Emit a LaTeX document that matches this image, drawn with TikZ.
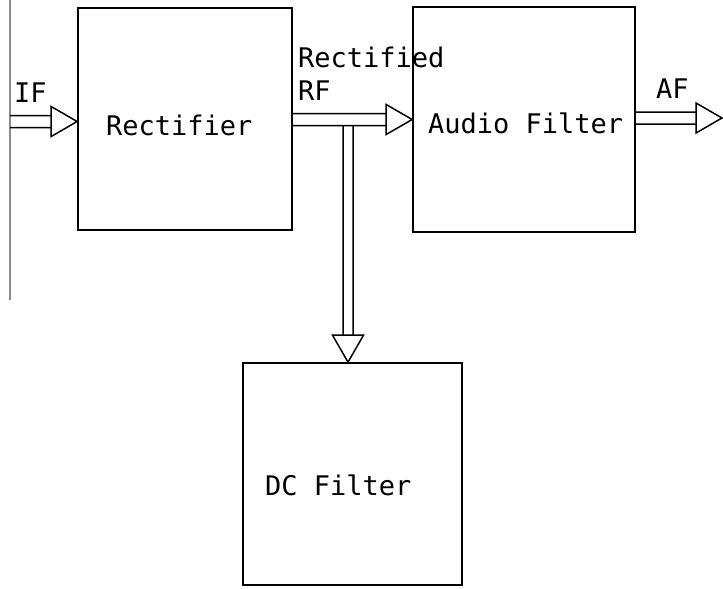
\documentclass[tikz,border=0pt]{standalone}
\usepackage{fontspec}
\setmainfont{DejaVu Sans Mono}
\usetikzlibrary{calc}

\tikzset{
  block/.style={draw=black, line width=1.7pt, minimum width=#1, minimum height=222pt, inner sep=0pt},
  block/.default=214pt,
  conn/.style={draw=black, line width=1.5pt, line join=miter},
  lbl/.style={anchor=base west, inner sep=0pt, font=\fontsize{27}{31}\selectfont},
  edge/.style={draw=black!45, line width=1.2pt}
}

% hollow double-line arrow pointing right: from #1 to the tip at #2
\newcommand{\dbright}[2]{%
  \draw[conn] let \p1=(#1), \p2=(#2) in
    (\x1,\y2+6pt) -- (\x2-26pt,\y2+6pt)
    (\x1,\y2-6pt) -- (\x2-26pt,\y2-6pt)
    (\x2-26pt,\y2+15pt) -- (\x2,\y2) -- (\x2-26pt,\y2-15pt) -- cycle;}
% hollow double-line arrow pointing down: from #1 to the tip at #2
\newcommand{\dbdown}[2]{%
  \draw[conn] let \p1=(#1), \p2=(#2) in
    (\x2-5pt,\y1) -- (\x2-5pt,\y2+27pt)
    (\x2+5pt,\y1) -- (\x2+5pt,\y2+27pt)
    (\x2-15.5pt,\y2+27pt) -- (\x2,\y2) -- (\x2+15.5pt,\y2+27pt) -- cycle;}

\begin{document}
\begin{tikzpicture}[x=1pt, y=-1pt]
  \useasboundingbox (0,0) rectangle (723,589);

  % blocks
  \node[block=214pt] (rect) at (185,119) {};
  \node[block=222pt, minimum height=225pt] (audio) at (524,119.5) {};
  \node[block=219pt] (dc) at (352.5,474) {};

  % block texts
  \node[lbl] (trect) at (106,135) {Rectifier};
  \node[lbl] (taudio) at (428,133) {Audio Filter};
  \node[lbl] (tdc) at (265,495) {DC Filter};

  % left margin rule
  \coordinate (mtop) at (10,0);
  \coordinate (mbot) at (10,300);
  \draw[edge] (mtop) -- (mbot);

  % connection points
  \coordinate (ifin) at (10,121.5);
  \coordinate (iftip) at ($(rect.west)+(0,2.5)$);
  \coordinate (afout) at (722,118);
  \coordinate (dctip) at ($(dc.north)+(-4.5,0)$);
  \coordinate (split) at ($(dctip |- rect.east)+(0,6)$);

  % signal arrows
  \dbright{ifin}{iftip}
  \dbright{rect.east}{audio.west}
  \dbright{audio.east}{afout}
  \dbdown{split}{dctip}

  % signal labels
  \node[lbl] (lif) at (14,102) {IF};
  \node[lbl] (lrect) at (298,67) {Rectified};
  \node[lbl] (lrf) at (298,100) {RF};
  \node[lbl] (laf) at (656,98) {AF};
\end{tikzpicture}
\end{document}
